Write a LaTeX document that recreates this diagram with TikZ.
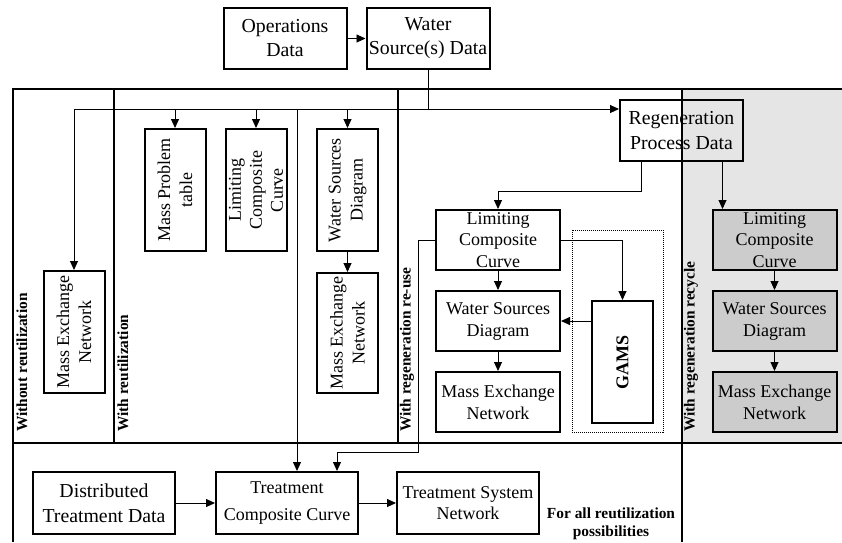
\documentclass[tikz,border=0pt]{standalone}
\usepackage{fontspec}
\setmainfont{Liberation Serif}
\usetikzlibrary{arrows.meta}

\begin{document}
\begin{tikzpicture}[x=1pt,y=-1pt,
  box/.style={draw,line width=2pt,inner sep=0pt,align=center,minimum width=123pt,minimum height=61pt,font=\fontsize{18}{22}\selectfont},
  bigbox/.style={box,font=\fontsize{19.8}{24}\selectfont},
  tribox/.style={box,minimum width=124pt,minimum height=60pt,font=\fontsize{18}{21.5}\selectfont},
  rbox/.style={box,rotate=90,minimum width=122pt,minimum height=61pt},
  gbox/.style={tribox,fill=black!20},
  wide/.style={box,minimum width=142pt,minimum height=62pt},
  wire/.style={line width=0.9pt,-{Triangle[length=9pt,width=8pt]}},
  frame/.style={line width=2pt},
  dotframe/.style={line width=0.7pt,dash pattern=on 1pt off 1pt},
  tag/.style={rotate=90,anchor=west,inner sep=0pt,font=\bfseries\fontsize{15.4}{18}\selectfont}]
%\draw[help lines] (0,0) grid[step=50] (842,542);
\useasboundingbox (0,0) rectangle (842,542);

% frame of the four cases
\fill[black!10] (682,89) rectangle (842,443);
\draw[frame] (842,89) -- (13,89) -- (13,542);
\draw[frame] (13,443) -- (842,443);
\draw[frame] (114,89) -- (114,443);
\draw[frame] (398,89) -- (398,443);
\draw[frame] (682,89) -- (682,542);

\node[tag] (t1) at (22,432) {Without reutilization};
\node[tag] (t2) at (123,432) {With reutilization};
\node[tag] (t3) at (407,432) {With regeneration re-use};
\node[tag] (t4) at (691,432) {With regeneration recycle};

% data
\node[bigbox] (ops) at (285,38.5) {Operations\\Data};
\node[bigbox] (water) at (428,38.5) {Water\\Source(s) Data};
\node[bigbox,font=\fontsize{19.8}{25}\selectfont] (regen) at (681.5,130.5) {Regeneration\\Process Data};

% without / with reutilization
\node[rbox] (menA) at (74,332) {Mass Exchange\\Network};
\node[rbox] (mpt) at (175,190) {Mass Problem\\table};
\node[rbox,font=\fontsize{18}{21}\selectfont] (lccA) at (256,190) {Limiting\\Composite\\Curve};
\node[rbox] (wsdA) at (347.5,190) {Water Sources\\Diagram};
\node[rbox,minimum width=120pt] (menB) at (347.5,333) {Mass Exchange\\Network};

% regeneration re-use
\node[tribox] (lccB) at (498,240) {Limiting\\Composite\\Curve};
\node[tribox,font=\fontsize{18}{22}\selectfont] (wsdB) at (498,321) {Water Sources\\Diagram};
\node[tribox,font=\fontsize{18}{22}\selectfont] (menC) at (498,402) {Mass Exchange\\Network};
\draw[dotframe] (572,230) rectangle (663,432);
\node[rbox,font=\bfseries\fontsize{18}{20}\selectfont] (gams) at (622.5,362) {GAMS};

% regeneration recycle
\node[gbox] (lccC) at (774.5,240) {Limiting\\Composite\\Curve};
\node[gbox,font=\fontsize{18}{22}\selectfont] (wsdC) at (774.5,321) {Water Sources\\Diagram};
\node[gbox,font=\fontsize{18}{22}\selectfont] (menD) at (774.5,402) {Mass Exchange\\Network};

% treatment
\node[wide,font=\fontsize{19.8}{25}\selectfont] (dtd) at (104,503) {Distributed\\Treatment Data};
\node[wide,font=\fontsize{18}{27}\selectfont] (tcc) at (287,503) {Treatment\\Composite Curve};
\node[wide,font=\fontsize{18}{21}\selectfont] (tsn) at (468,503) {Treatment System\\Network};
\node[align=center,inner sep=0pt,font=\bfseries\fontsize{15.4}{18}\selectfont] (note) at (611,524) {For all reutilization\\possibilities};

% connectors
\coordinate (bus) at (428,109);
\coordinate (busL) at (menA.east |- bus);
\coordinate (drop) at (297,109);
\draw[wire] (ops) -- (water);
\draw[line width=0.9pt] (water.south) -- (bus);
\draw[wire] (busL) -- (bus -| regen.west);
\draw[wire] (busL) -- (menA.east);
\draw[wire] (bus -| mpt.east) -- (mpt.east);
\draw[wire] (bus -| lccA.east) -- (lccA.east);
\draw[wire] (bus -| wsdA.east) -- (wsdA.east);
\draw[wire] (wsdA.west) -- (menB.east);
\draw[wire] (drop) -- (drop |- tcc.north);

\draw[wire] ([xshift=-40pt]regen.south) -- ++(0,29) -| (lccB.north);
\draw[wire] ([xshift=41pt]regen.south) -- ([xshift=41pt]regen.south |- lccC.north);
\draw[wire] (lccB) -- (wsdB);
\draw[wire] (wsdB) -- (menC);
\draw[wire] (lccB.east) -| (gams.east);
\draw[wire] (gams.north |- wsdB.east) -- (wsdB.east);
\draw[wire] (lccB.west) -| (418,452) -| ([xshift=50pt]tcc.north);
\draw[wire] (lccC) -- (wsdC);
\draw[wire] (wsdC) -- (menD);

\draw[wire] (dtd) -- (tcc);
\draw[wire] (tcc) -- (tsn);

\end{tikzpicture}
\end{document}
